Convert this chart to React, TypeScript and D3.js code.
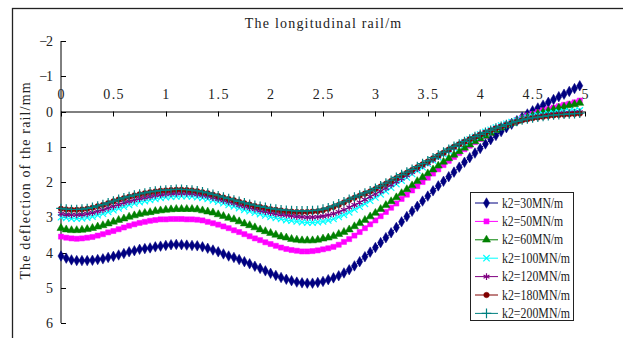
import React, { useEffect, useRef } from 'react';
import * as d3 from 'd3';

// sample positions along the rail (m), 0.05 m apart
const STEP = 0.05;
const COUNT = 100;

const k30 = [
  4.10, 4.16, 4.21, 4.23, 4.23, 4.23, 4.22, 4.20, 4.18, 4.14, 4.11,
  4.07, 4.03, 3.98, 3.95, 3.91, 3.89, 3.87, 3.84, 3.82, 3.80,
  3.78, 3.77, 3.78, 3.79, 3.80, 3.81, 3.84, 3.88, 3.93, 3.98,
  4.04, 4.10, 4.14, 4.20, 4.26, 4.32, 4.39, 4.45, 4.52, 4.59,
  4.65, 4.71, 4.76, 4.80, 4.84, 4.86, 4.87, 4.87, 4.85, 4.82,
  4.77, 4.72, 4.66, 4.58, 4.49, 4.38, 4.26, 4.12, 3.99, 3.86,
  3.72, 3.58, 3.44, 3.29, 3.13, 2.98, 2.83, 2.69, 2.54, 2.40,
  2.25, 2.11, 1.98, 1.85, 1.72, 1.58, 1.44, 1.31, 1.18, 1.05,
  0.92, 0.80, 0.68, 0.57, 0.46, 0.36, 0.26, 0.16, 0.07, -0.02,
  -0.10, -0.18, -0.26, -0.34, -0.42, -0.49, -0.57, -0.65, -0.73,
];

const k50 = [
  3.55, 3.58, 3.60, 3.61, 3.60, 3.58, 3.56, 3.52, 3.48, 3.43, 3.39,
  3.34, 3.29, 3.24, 3.20, 3.16, 3.13, 3.10, 3.08, 3.06, 3.06,
  3.05, 3.05, 3.05, 3.06, 3.06, 3.07, 3.09, 3.13, 3.17, 3.21,
  3.26, 3.31, 3.37, 3.42, 3.48, 3.54, 3.60, 3.65, 3.71, 3.76,
  3.81, 3.86, 3.90, 3.93, 3.95, 3.97, 3.97, 3.96, 3.94, 3.91,
  3.88, 3.84, 3.78, 3.70, 3.62, 3.52, 3.42, 3.31, 3.20, 3.09,
  2.97, 2.85, 2.73, 2.61, 2.48, 2.36, 2.24, 2.12, 2.00, 1.88,
  1.76, 1.64, 1.52, 1.40, 1.29, 1.18, 1.07, 0.97, 0.87, 0.78,
  0.69, 0.60, 0.52, 0.44, 0.37, 0.30, 0.24, 0.18, 0.12, 0.07,
  0.02, -0.03, -0.07, -0.11, -0.15, -0.19, -0.22, -0.26, -0.31,
];

const k60 = [
  3.31, 3.35, 3.37, 3.37, 3.36, 3.34, 3.31, 3.27, 3.23, 3.18, 3.13,
  3.08, 3.04, 2.99, 2.95, 2.91, 2.88, 2.86, 2.83, 2.81, 2.79,
  2.78, 2.77, 2.77, 2.77, 2.77, 2.78, 2.81, 2.84, 2.87, 2.92,
  2.97, 3.02, 3.06, 3.12, 3.18, 3.23, 3.29, 3.35, 3.40, 3.45,
  3.50, 3.55, 3.58, 3.62, 3.64, 3.66, 3.66, 3.66, 3.64, 3.61,
  3.58, 3.54, 3.48, 3.42, 3.35, 3.26, 3.17, 3.08, 2.98, 2.88,
  2.77, 2.66, 2.55, 2.44, 2.32, 2.21, 2.10, 1.98, 1.87, 1.76,
  1.65, 1.54, 1.43, 1.33, 1.23, 1.13, 1.03, 0.94, 0.85, 0.77,
  0.69, 0.61, 0.53, 0.46, 0.39, 0.33, 0.27, 0.21, 0.16, 0.11,
  0.06, 0.02, -0.02, -0.06, -0.10, -0.13, -0.17, -0.20, -0.24,
];

const k100 = [
  3.00, 3.02, 3.04, 3.04, 3.03, 3.01, 2.98, 2.94, 2.90, 2.85, 2.80,
  2.75, 2.70, 2.65, 2.61, 2.57, 2.54, 2.51, 2.48, 2.45, 2.43,
  2.42, 2.41, 2.40, 2.40, 2.41, 2.43, 2.45, 2.48, 2.52, 2.56,
  2.60, 2.65, 2.69, 2.74, 2.79, 2.83, 2.87, 2.91, 2.95, 2.99,
  3.02, 3.05, 3.08, 3.10, 3.12, 3.14, 3.15, 3.15, 3.14, 3.12,
  3.09, 3.05, 2.99, 2.93, 2.86, 2.78, 2.70, 2.62, 2.53, 2.44,
  2.35, 2.26, 2.16, 2.06, 1.96, 1.87, 1.77, 1.67, 1.58, 1.48,
  1.39, 1.30, 1.21, 1.12, 1.03, 0.95, 0.87, 0.79, 0.72, 0.65,
  0.58, 0.52, 0.46, 0.40, 0.35, 0.30, 0.26, 0.22, 0.18, 0.14,
  0.11, 0.08, 0.06, 0.04, 0.02, 0.00, -0.01, -0.02, -0.03,
];

const k120 = [
  2.90, 2.92, 2.93, 2.93, 2.92, 2.90, 2.87, 2.83, 2.79, 2.74, 2.69,
  2.64, 2.59, 2.55, 2.51, 2.47, 2.44, 2.41, 2.38, 2.36, 2.34,
  2.33, 2.32, 2.32, 2.32, 2.33, 2.35, 2.37, 2.40, 2.44, 2.48,
  2.52, 2.56, 2.60, 2.65, 2.69, 2.73, 2.77, 2.81, 2.84, 2.87,
  2.90, 2.92, 2.94, 2.96, 2.98, 2.99, 3.00, 3.00, 2.99, 2.97,
  2.94, 2.90, 2.85, 2.79, 2.72, 2.65, 2.58, 2.50, 2.42, 2.34,
  2.26, 2.17, 2.08, 1.99, 1.90, 1.81, 1.72, 1.63, 1.54, 1.46,
  1.37, 1.28, 1.19, 1.10, 1.02, 0.94, 0.86, 0.79, 0.72, 0.65,
  0.59, 0.53, 0.47, 0.42, 0.37, 0.32, 0.28, 0.24, 0.20, 0.17,
  0.14, 0.12, 0.10, 0.08, 0.06, 0.05, 0.04, 0.03, 0.02,
];

const k180 = [
  2.76, 2.78, 2.79, 2.79, 2.78, 2.76, 2.73, 2.69, 2.65, 2.60, 2.55,
  2.50, 2.46, 2.42, 2.38, 2.35, 2.32, 2.29, 2.27, 2.25, 2.24,
  2.23, 2.22, 2.22, 2.23, 2.24, 2.26, 2.29, 2.32, 2.36, 2.40,
  2.44, 2.48, 2.52, 2.56, 2.60, 2.64, 2.68, 2.71, 2.74, 2.77,
  2.79, 2.81, 2.83, 2.84, 2.85, 2.85, 2.85, 2.84, 2.83, 2.80,
  2.76, 2.71, 2.65, 2.58, 2.51, 2.45, 2.39, 2.33, 2.27, 2.20,
  2.13, 2.05, 1.97, 1.89, 1.81, 1.74, 1.66, 1.58, 1.50, 1.42,
  1.33, 1.25, 1.17, 1.08, 1.00, 0.93, 0.86, 0.79, 0.72, 0.66,
  0.60, 0.54, 0.48, 0.43, 0.38, 0.33, 0.29, 0.25, 0.22, 0.19,
  0.17, 0.15, 0.13, 0.11, 0.10, 0.09, 0.08, 0.07, 0.06,
];

const k200 = [
  2.75, 2.77, 2.78, 2.78, 2.77, 2.75, 2.72, 2.68, 2.64, 2.59, 2.54,
  2.49, 2.45, 2.41, 2.37, 2.34, 2.31, 2.28, 2.26, 2.24, 2.23,
  2.22, 2.21, 2.21, 2.22, 2.23, 2.25, 2.28, 2.31, 2.35, 2.39,
  2.43, 2.47, 2.51, 2.55, 2.59, 2.63, 2.66, 2.69, 2.72, 2.75,
  2.77, 2.79, 2.80, 2.81, 2.82, 2.82, 2.82, 2.81, 2.80, 2.77,
  2.73, 2.68, 2.62, 2.56, 2.49, 2.43, 2.37, 2.31, 2.25, 2.18,
  2.11, 2.03, 1.95, 1.87, 1.79, 1.72, 1.64, 1.56, 1.48, 1.40,
  1.31, 1.23, 1.15, 1.07, 0.99, 0.92, 0.85, 0.78, 0.71, 0.65,
  0.59, 0.53, 0.47, 0.42, 0.37, 0.32, 0.28, 0.24, 0.21, 0.18,
  0.16, 0.14, 0.12, 0.10, 0.09, 0.08, 0.07, 0.06, 0.05,
];

const seriesNames = ['k2=30MN/m', 'k2=50MN/m', 'k2=60MN/m', 'k2=100MN/m', 'k2=120MN/m', 'k2=180MN/m', 'k2=200MN/m'];
const seriesValues = [k30, k50, k60, k100, k120, k180, k200];
const seriesColors = ['#000080', '#ff00ff', '#008000', '#00ffff', '#800080', '#800000', '#008080'];
const xTicks = [0, 0.5, 1, 1.5, 2, 2.5, 3, 3.5, 4, 4.5, 5];
const yTicks = [-2, -1, 0, 1, 2, 3, 4, 5, 6];

// SimSun-like look: serif glyphs on a fixed half-width cell
const FONT = '"Liberation Serif", "DejaVu Serif", serif';
const CELL = 6.8;

// marker type per series: filled symbols vs stroked ones
const markers = [
  { type: d3.symbolDiamond, size: 32, filled: true },
  { type: d3.symbolSquare, size: 26, filled: true },
  { type: d3.symbolTriangle, size: 28, filled: true },
  { type: d3.symbolX, size: 28, filled: false },
  { type: d3.symbolAsterisk, size: 32, filled: false },
  { type: d3.symbolCircle, size: 24, filled: true },
  { type: d3.symbolPlus, size: 32, filled: false },
];

const label = (sel, str, size = 14, squeeze = false) => {
  sel.style('font-family', FONT)
    .style('font-size', `${size}px`)
    .attr('fill', '#222')
    .text(str);
  if (str.length > 1) sel.attr('textLength', str.length * CELL);
  if (squeeze) sel.attr('lengthAdjust', 'spacingAndGlyphs');
  return sel;
};

const App = () => {
  const ref = useRef(null);

  useEffect(() => {
    const svg = d3.select(ref.current);
    svg.selectAll('*').remove();

    const width = 623;
    const height = 338;

    // outer chart frame (runs off right & bottom)
    svg.append('rect')
      .attr('x', 12.5).attr('y', 8.5)
      .attr('width', width).attr('height', height)
      .attr('fill', 'white')
      .attr('stroke', '#222').attr('stroke-width', 1.3);

    const x = d3.scaleLinear().domain([0, 5]).range([61, 585]);
    const y = d3.scaleLinear().domain([-2, 6]).range([41, 323]);

    const xs = d3.range(COUNT).map(i => i * STEP);

    // axes
    const ax = svg.append('g').attr('stroke', '#000').attr('stroke-width', 1);
    ax.append('line')
      .attr('x1', x(0)).attr('x2', x(0))
      .attr('y1', y(-2)).attr('y2', y(6));
    ax.append('line')
      .attr('x1', x(0)).attr('x2', x(5))
      .attr('y1', y(0) + 0.5).attr('y2', y(0) + 0.5);

    yTicks.forEach(t => {
      ax.append('line')
        .attr('x1', x(0)).attr('x2', x(0) + 5)
        .attr('y1', Math.round(y(t)) + 0.5).attr('y2', Math.round(y(t)) + 0.5);
    });
    xTicks.forEach(t => {
      ax.append('line')
        .attr('x1', Math.round(x(t)) + 0.5).attr('x2', Math.round(x(t)) + 0.5)
        .attr('y1', y(0)).attr('y2', y(0) + 5);
    });

    yTicks.forEach(t => {
      const s = t < 0 ? '\u2212' + Math.abs(t) : String(t);
      label(svg.append('text')
        .attr('x', 53)
        .attr('y', y(t) + 5)
        .attr('text-anchor', 'end'), s);
    });

    xTicks.forEach(t => {
      label(svg.append('text')
        .attr('x', x(t))
        .attr('y', y(0) - 13)
        .attr('text-anchor', 'middle'), String(t));
    });

    // titles
    label(svg.append('text')
      .attr('x', 323).attr('y', 28)
      .attr('text-anchor', 'middle'), 'The longitudinal rail/m');

    label(svg.append('text')
      .attr('transform', 'translate(30,181) rotate(-90)')
      .attr('text-anchor', 'middle'), 'The deflection of the rail/mm');

    // series
    const line = d3.line()
      .x((d, i) => x(xs[i]))
      .y(d => y(d));

    const drawMarker = (g, idx, px, py) => {
      const m = markers[idx];
      const p = d3.symbol().type(m.type).size(m.size)();
      g.append('path')
        .attr('d', p)
        .attr('transform', `translate(${px},${py})`)
        .attr('fill', m.filled ? seriesColors[idx] : 'none')
        .attr('stroke', seriesColors[idx])
        .attr('stroke-width', m.filled ? 0.5 : 1.2);
    };

    seriesValues.forEach((vals, idx) => {
      const g = svg.append('g');
      g.append('path')
        .attr('d', line(vals))
        .attr('fill', 'none')
        .attr('stroke', seriesColors[idx])
        .attr('stroke-width', 1);
      vals.forEach((v, i) => drawMarker(g, idx, x(xs[i]), y(v)));
    });

    // legend
    const lg = svg.append('g');
    lg.append('rect')
      .attr('x', 470.5).attr('y', 192.5)
      .attr('width', 103).attr('height', 128)
      .attr('fill', 'white')
      .attr('stroke', '#222').attr('stroke-width', 1);

    seriesNames.forEach((name, idx) => {
      const ly = 203 + idx * 18.4;
      lg.append('line')
        .attr('x1', 475).attr('x2', 498)
        .attr('y1', ly).attr('y2', ly)
        .attr('stroke', seriesColors[idx]).attr('stroke-width', 1);
      drawMarker(lg, idx, 486.5, ly);
      label(lg.append('text')
        .attr('x', 502).attr('y', ly + 4.5), name, 14, true);
    });
  }, []);

  return (
    <svg
      ref={ref}
      width={623}
      height={338}
      style={{ position: 'absolute', left: 0, top: 0, background: 'white' }}
    />
  );
};

export default App;
